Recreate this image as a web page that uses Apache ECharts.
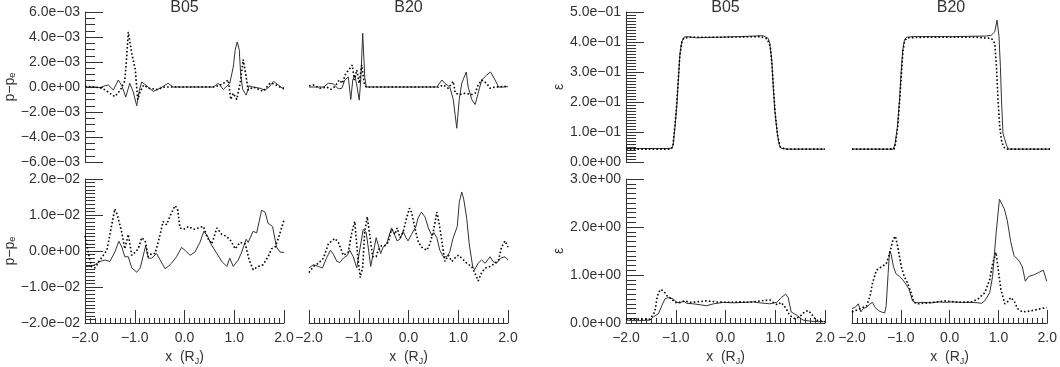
<!DOCTYPE html>
<head>
    <meta charset="utf-8">
    <title>B05 / B20</title>
    <script src="https://cdn.jsdelivr.net/npm/echarts@6/dist/echarts.min.js"></script>
    <style>
      body { margin: 0; background: #fff; }
      #main { width: 1060px; height: 367px; }
    </style>
</head>
<body>
<div id="main"></div>

<script type="text/javascript">
// panel titles and axis tick values
var panelTitles = ['B05', 'B20', 'B05', 'B20'];
var xTicks = [-2.0, -1.0, 0.0, 1.0, 2.0];
var dpTopTicks = [-6e-3, -4e-3, -2e-3, 0, 2e-3, 4e-3, 6e-3];
var dpBotTicks = [-2e-2, -1e-2, 0, 1e-2, 2e-2];
var epsTopTicks = [0, 0.1, 0.2, 0.3, 0.4, 0.5];
var epsBotTicks = [0, 1, 2, 3];

// p - p_e, top row
var dpTopB05Solid = [[-2.0,0],[-1.8,0.0],[-1.7,-0.05e-3],[-1.6,0.1e-3],[-1.53,0.16e-3],[-1.43,-0.24e-3],[-1.33,0.56e-3],[-1.26,0.1e-3],[-1.18,-0.8e-3],[-1.10,0.3e-3],[-1.03,-0.4e-3],[-0.96,-1.5e-3],[-0.91,-0.3e-3],[-0.86,0.4e-3],[-0.76,0.1e-3],[-0.63,-0.35e-3],[-0.49,-0.1e-3],[-0.33,0.3e-3],[-0.23,0.0],[0.58,0],[0.68,0.3e-3],[0.78,-0.2e-3],[0.91,0.3e-3],[0.98,1.6e-3],[1.02,3.0e-3],[1.06,3.6e-3],[1.10,3.0e-3],[1.13,1.0e-3],[1.17,-0.2e-3],[1.24,-0.65e-3],[1.3,0.1e-3],[1.38,0.0],[1.52,-0.1e-3],[1.62,-0.25e-3],[1.7,0.0],[1.79,0.45e-3],[1.89,0.15e-3],[2.0,-0.2e-3]];
var dpTopB05Dot = [[-2,0.05e-3],[-1.8,0.0],[-1.65,-0.1e-3],[-1.5,-0.5e-3],[-1.4,-0.77e-3],[-1.29,-0.25e-3],[-1.2,0.5e-3],[-1.16,2.5e-3],[-1.13,4.4e-3],[-1.06,2.7e-3],[-0.99,1.4e-3],[-0.94,-1.0e-3],[-0.89,-0.35e-3],[-0.82,0.15e-3],[-0.72,-0.1e-3],[-0.55,-0.2e-3],[-0.4,0],[0.6,0],[0.75,0.2e-3],[0.88,0.56e-3],[0.93,-1.0e-3],[0.98,-0.5e-3],[1.05,-1.0e-3],[1.12,0.3e-3],[1.18,2.2e-3],[1.24,0.8e-3],[1.28,-0.25e-3],[1.38,0.0],[1.58,-0.35e-3],[1.72,0.3e-3],[1.8,0.25e-3],[1.92,0.0],[2.0,-0.1e-3]];
var dpTopB20Solid = [[-2,0],[-1.71,0],[-1.61,0.3e-3],[-1.51,0.25e-3],[-1.41,-0.15e-3],[-1.34,-0.1e-3],[-1.28,0.56e-3],[-1.21,0.8e-3],[-1.16,-1.0e-3],[-1.12,0.56e-3],[-1.08,0.95e-3],[-1.04,0.15e-3],[-0.99,-1.05e-3],[-0.96,0.56e-3],[-0.92,4.3e-3],[-0.88,0.8e-3],[-0.85,0],[0.57,0],[0.67,0.56e-3],[0.73,0.3e-3],[0.83,0],[0.90,-1.0e-3],[0.97,-3.3e-3],[1.02,-1.0e-3],[1.07,0.3e-3],[1.16,1.2e-3],[1.20,0.0],[1.27,-1.0e-3],[1.34,-1.4e-3],[1.40,-0.5e-3],[1.47,0.56e-3],[1.57,0.95e-3],[1.65,1.2e-3],[1.74,0.56e-3],[1.81,0],[1.91,0],[2,0.03e-3]];
var dpTopB20Dot = [[-2,0.1e-3],[-1.91,0.16e-3],[-1.78,-0.1e-3],[-1.65,0],[-1.56,-0.19e-3],[-1.49,0],[-1.39,0.56e-3],[-1.33,0.29e-3],[-1.26,1.1e-3],[-1.20,1.36e-3],[-1.13,1.76e-3],[-1.09,0.56e-3],[-1.04,1.36e-3],[-0.99,0.3e-3],[-0.94,1.76e-3],[-0.89,0.3e-3],[-0.85,0],[0.6,0],[0.70,0.16e-3],[0.80,-0.1e-3],[0.90,0.45e-3],[0.94,-0.5e-3],[0.98,-0.64e-3],[1.03,-0.6e-3],[1.14,-0.5e-3],[1.27,-0.6e-3],[1.34,-0.5e-3],[1.40,0.16e-3],[1.47,0.56e-3],[1.57,0.3e-3],[1.64,-0.1e-3],[1.74,0],[1.9,0.03e-3],[2,0.08e-3]];

// p - p_e, bottom row
var dpBotB05Solid = [[-2.0,-0.43e-2],[-1.90,-0.43e-2],[-1.80,-0.38e-2],[-1.70,-0.29e-2],[-1.60,-0.25e-2],[-1.50,-0.29e-2],[-1.40,-0.03e-2],[-1.32,0.27e-2],[-1.26,0.11e-2],[-1.20,-0.16e-2],[-1.13,-0.16e-2],[-1.06,-0.47e-2],[-0.96,-0.59e-2],[-0.89,-0.47e-2],[-0.78,0.15e-2],[-0.73,-0.2e-2],[-0.66,-0.2e-2],[-0.56,-0.07e-2],[-0.49,-0.25e-2],[-0.39,-0.49e-2],[-0.33,-0.43e-2],[-0.26,-0.34e-2],[-0.16,-0.16e-2],[-0.06,0.1e-2],[0.01,0.02e-2],[0.11,-0.12e-2],[0.21,-0.03e-2],[0.31,0.24e-2],[0.39,0.55e-2],[0.46,0.42e-2],[0.55,0.15e-2],[0.65,-0.07e-2],[0.75,-0.29e-2],[0.85,-0.43e-2],[0.91,-0.2e-2],[0.98,-0.43e-2],[1.08,-0.25e-2],[1.15,-0.03e-2],[1.24,0.33e-2],[1.28,0.24e-2],[1.38,0.55e-2],[1.45,0.5e-2],[1.55,1.13e-2],[1.62,1.08e-2],[1.68,0.77e-2],[1.77,0.68e-2],[1.85,0.11e-2],[1.92,-0.03e-2],[2.0,-0.04e-2]];
var dpBotB05Dot = [[-2.0,0.42e-2],[-1.93,-0.07e-2],[-1.87,-0.43e-2],[-1.80,-0.47e-2],[-1.70,-0.25e-2],[-1.56,0.02e-2],[-1.48,0.6e-2],[-1.40,1.17e-2],[-1.35,1.0e-2],[-1.26,0.51e-2],[-1.20,0.06e-2],[-1.13,0.46e-2],[-1.06,-0.12e-2],[-0.99,-0.03e-2],[-0.93,0.06e-2],[-0.86,0.37e-2],[-0.79,0.28e-2],[-0.73,-0.16e-2],[-0.66,-0.07e-2],[-0.59,-0.07e-2],[-0.49,0.46e-2],[-0.43,0.82e-2],[-0.36,0.73e-2],[-0.28,1.0e-2],[-0.19,1.26e-2],[-0.14,1.17e-2],[-0.09,0.64e-2],[-0.02,0.6e-2],[0.08,0.68e-2],[0.18,0.6e-2],[0.28,0.64e-2],[0.38,0.68e-2],[0.46,0.37e-2],[0.55,0.2e-2],[0.65,0.64e-2],[0.75,0.46e-2],[0.82,0.42e-2],[0.91,0.33e-2],[1.02,0.06e-2],[1.12,0.24e-2],[1.22,0.2e-2],[1.30,-0.25e-2],[1.38,-0.52e-2],[1.48,-0.43e-2],[1.58,-0.38e-2],[1.68,-0.16e-2],[1.75,0.06e-2],[1.82,0.11e-2],[1.89,0.37e-2],[2.0,0.86e-2]];
var dpBotB20Solid = [[-2.0,-0.47e-2],[-1.91,-0.38e-2],[-1.81,-0.43e-2],[-1.73,-0.47e-2],[-1.65,-0.2e-2],[-1.57,0.02e-2],[-1.51,-0.09e-2],[-1.44,-0.29e-2],[-1.38,-0.32e-2],[-1.31,-0.2e-2],[-1.23,-0.12e-2],[-1.18,0.02e-2],[-1.11,-0.16e-2],[-1.04,-0.47e-2],[-0.97,0.11e-2],[-0.91,0.6e-2],[-0.85,0.51e-2],[-0.81,0.11e-2],[-0.76,-0.43e-2],[-0.71,-0.07e-2],[-0.65,0.37e-2],[-0.61,0.33e-2],[-0.56,-0.07e-2],[-0.51,0.11e-2],[-0.44,0.2e-2],[-0.37,0.51e-2],[-0.34,0.64e-2],[-0.27,0.42e-2],[-0.23,0.28e-2],[-0.17,0.33e-2],[-0.11,0.55e-2],[-0.05,0.37e-2],[-0.01,0.28e-2],[0.06,0.46e-2],[0.15,0.68e-2],[0.19,0.91e-2],[0.26,1.08e-2],[0.33,0.95e-2],[0.40,0.64e-2],[0.47,0.42e-2],[0.51,0.51e-2],[0.57,0.37e-2],[0.63,0.02e-2],[0.70,-0.16e-2],[0.77,-0.16e-2],[0.83,-0.03e-2],[0.89,0.33e-2],[0.93,0.37e-2],[0.98,0.68e-2],[1.02,1.35e-2],[1.07,1.64e-2],[1.11,1.44e-2],[1.17,0.91e-2],[1.22,0.2e-2],[1.29,-0.43e-2],[1.33,-0.52e-2],[1.40,-0.34e-2],[1.47,-0.25e-2],[1.54,-0.34e-2],[1.64,-0.16e-2],[1.70,-0.29e-2],[1.77,-0.34e-2],[1.85,-0.2e-2],[1.94,-0.16e-2],[2.0,-0.25e-2]];
var dpBotB20Dot = [[-2.0,-0.6e-2],[-1.91,-0.43e-2],[-1.81,-0.34e-2],[-1.71,-0.2e-2],[-1.61,0.2e-2],[-1.54,0.28e-2],[-1.48,0.35e-2],[-1.41,0.24e-2],[-1.31,-0.12e-2],[-1.21,-0.03e-2],[-1.14,0.51e-2],[-1.08,0.82e-2],[-1.02,-0.16e-2],[-0.97,-0.74e-2],[-0.92,-0.43e-2],[-0.88,0.55e-2],[-0.83,0.95e-2],[-0.78,0.46e-2],[-0.72,-0.16e-2],[-0.65,-0.16e-2],[-0.61,0.02e-2],[-0.54,0.15e-2],[-0.47,0.15e-2],[-0.41,0.24e-2],[-0.34,0.6e-2],[-0.27,0.46e-2],[-0.23,0.64e-2],[-0.17,0.37e-2],[-0.11,0.51e-2],[-0.04,0.91e-2],[0.02,1.19e-2],[0.06,1.08e-2],[0.13,0.64e-2],[0.19,0.28e-2],[0.26,0.11e-2],[0.37,0.02e-2],[0.43,0.2e-2],[0.50,0.55e-2],[0.57,1.08e-2],[0.62,0.73e-2],[0.67,0.28e-2],[0.73,-0.29e-2],[0.80,-0.12e-2],[0.87,-0.29e-2],[0.93,-0.2e-2],[1.00,-0.12e-2],[1.07,-0.2e-2],[1.17,-0.34e-2],[1.27,-0.43e-2],[1.33,-0.6e-2],[1.40,-0.83e-2],[1.47,-0.6e-2],[1.54,-0.47e-2],[1.64,-0.43e-2],[1.74,-0.34e-2],[1.81,-0.25e-2],[1.87,0.11e-2],[1.94,0.28e-2],[2.0,0.11e-2]];

// epsilon, top row
var epsTopB05Solid = [[-2,0.045],[-1.2,0.045],[-1.08,0.046],[-1.05,0.057],[-1.015,0.118],[-0.98,0.184],[-0.948,0.273],[-0.915,0.362],[-0.88,0.401],[-0.834,0.416],[-0.78,0.418],[-0.58,0.414],[0.29,0.418],[0.76,0.421],[0.86,0.412],[0.89,0.396],[0.93,0.34],[0.96,0.251],[0.99,0.173],[1.04,0.096],[1.08,0.057],[1.12,0.046],[1.22,0.043],[2,0.043]];
var epsTopB05Dot = [[-2,0.043],[-1.1,0.043],[-1.06,0.05],[-1.03,0.1],[-0.99,0.17],[-0.955,0.26],[-0.92,0.35],[-0.885,0.395],[-0.84,0.413],[-0.7,0.416],[0,0.416],[0.7,0.418],[0.84,0.41],[0.9,0.385],[0.94,0.31],[0.97,0.23],[1.0,0.16],[1.05,0.085],[1.1,0.05],[1.2,0.043],[2,0.043]];
var epsTopB20Solid = [[-2,0.043],[-1.163,0.043],[-1.129,0.062],[-1.082,0.118],[-1.04,0.207],[-1.008,0.296],[-0.975,0.373],[-0.94,0.407],[-0.894,0.416],[-0.76,0.418],[0.046,0.418],[0.716,0.42],[0.817,0.423],[0.884,0.434],[0.93,0.473],[0.97,0.418],[0.998,0.318],[1.02,0.207],[1.05,0.096],[1.08,0.079],[1.12,0.057],[1.16,0.043],[2,0.043]];
var epsTopB20Dot = [[-2,0.043],[-1.15,0.043],[-1.12,0.06],[-1.075,0.12],[-1.035,0.21],[-1.0,0.3],[-0.97,0.37],[-0.935,0.405],[-0.88,0.414],[-0.5,0.416],[0.5,0.416],[0.817,0.412],[0.884,0.396],[0.918,0.318],[0.95,0.207],[0.985,0.118],[1.018,0.073],[1.06,0.051],[1.11,0.043],[2,0.043]];

// epsilon, bottom row
var epsBotB05Solid = [[-2,0.06],[-1.79,0.047],[-1.52,0.06],[-1.45,0.13],[-1.35,0.19],[-1.28,0.36],[-1.22,0.5],[-1.15,0.53],[-1.05,0.5],[-0.98,0.43],[-0.91,0.42],[-0.85,0.46],[-0.78,0.41],[-0.65,0.40],[-0.51,0.38],[-0.38,0.36],[-0.24,0.40],[-0.04,0.43],[0.16,0.42],[0.36,0.43],[0.56,0.44],[0.69,0.42],[0.89,0.40],[1.03,0.43],[1.12,0.53],[1.21,0.6],[1.26,0.53],[1.32,0.23],[1.42,0.17],[1.56,0.06],[1.69,0.04],[1.86,0.027],[2,0.027]];
var epsBotB05Dot = [[-2,0.08],[-1.79,0.08],[-1.52,0.08],[-1.42,0.23],[-1.38,0.5],[-1.35,0.63],[-1.30,0.70],[-1.24,0.66],[-1.17,0.56],[-1.08,0.5],[-1.02,0.43],[-0.91,0.43],[-0.81,0.46],[-0.71,0.43],[-0.58,0.44],[-0.38,0.46],[-0.18,0.44],[0.02,0.43],[0.29,0.44],[0.49,0.43],[0.69,0.46],[0.89,0.48],[0.96,0.43],[1.04,0.38],[1.12,0.43],[1.22,0.3],[1.29,0.16],[1.39,0.09],[1.49,0.13],[1.59,0.23],[1.66,0.26],[1.72,0.2],[1.82,0.06],[2,0.027]];
var epsBotB20Solid = [[-2,0.30],[-1.93,0.33],[-1.87,0.40],[-1.82,0.23],[-1.77,0.30],[-1.70,0.33],[-1.63,0.40],[-1.58,0.43],[-1.53,0.33],[-1.46,0.26],[-1.40,0.23],[-1.33,0.21],[-1.30,0.36],[-1.26,1.03],[-1.23,1.50],[-1.20,1.44],[-1.15,1.17],[-1.10,1.03],[-1.03,0.97],[-0.96,0.90],[-0.89,0.80],[-0.83,0.70],[-0.76,0.46],[-0.69,0.42],[-0.56,0.43],[-0.36,0.42],[-0.23,0.44],[-0.09,0.43],[0.05,0.44],[0.25,0.43],[0.45,0.43],[0.58,0.42],[0.65,0.41],[0.72,0.46],[0.82,0.63],[0.88,0.97],[0.95,1.84],[1.02,2.58],[1.05,2.54],[1.12,2.38],[1.18,2.14],[1.25,1.70],[1.32,1.40],[1.42,1.30],[1.49,1.17],[1.55,0.87],[1.62,0.97],[1.72,1.0],[1.82,1.05],[1.92,1.10],[1.99,0.87]];
var epsBotB20Dot = [[-2,0.23],[-1.93,0.26],[-1.83,0.30],[-1.70,0.36],[-1.63,0.56],[-1.58,0.83],[-1.50,1.10],[-1.40,1.17],[-1.30,1.23],[-1.23,1.44],[-1.16,1.74],[-1.11,1.81],[-1.06,1.57],[-0.99,1.17],[-0.93,0.97],[-0.86,0.83],[-0.79,0.63],[-0.73,0.43],[-0.63,0.40],[-0.36,0.43],[-0.09,0.46],[0.18,0.43],[0.45,0.44],[0.58,0.50],[0.72,0.63],[0.82,0.90],[0.88,1.23],[0.95,1.47],[0.98,1.23],[1.05,0.70],[1.13,0.40],[1.18,0.43],[1.25,0.53],[1.32,0.46],[1.39,0.30],[1.49,0.23],[1.65,0.25],[1.79,0.28],[1.92,0.31],[1.99,0.32]];

var myChart = echarts.init(document.getElementById('main'), null, {renderer: 'canvas'});
var FONT = 'Liberation Sans';
var INK = '#333';

function sci(v) {
    if (Math.abs(v) < 1e-12) return '0.0e+00';
    var p = v.toExponential(1).split('e');
    var e = parseInt(p[1], 10);
    return p[0].replace('-', '\u2212') + 'e' + (e < 0 ? '\u2212' : '+') + String(Math.abs(e)).padStart(2, '0');
}
function fix1(v) {
    if (Math.abs(v) < 1e-9) return '0.0';
    return v.toFixed(1).replace('-', '\u2212');
}

// layout of the 8 panels
var cols = [{left: 85, width: 199}, {left: 309, width: 199}, {left: 626, width: 199}, {left: 852, width: 198}];
var rows = [{top: 12, height: 150}, {top: 179, height: 149}];

var panels = [
    {r: 0, c: 0, ticks: dpTopTicks, minor: 4, name: 'p\u2212p\u2091', gap: 68, solid: dpTopB05Solid, dot: dpTopB05Dot},
    {r: 0, c: 1, ticks: dpTopTicks, solid: dpTopB20Solid, dot: dpTopB20Dot},
    {r: 0, c: 2, ticks: epsTopTicks, minor: 10, name: '\u03b5', gap: 58, solid: epsTopB05Solid, dot: epsTopB05Dot},
    {r: 0, c: 3, ticks: epsTopTicks, solid: epsTopB20Solid, dot: epsTopB20Dot},
    {r: 1, c: 0, ticks: dpBotTicks, minor: 10, name: 'p\u2212p\u2091', gap: 68, solid: dpBotB05Solid, dot: dpBotB05Dot},
    {r: 1, c: 1, ticks: dpBotTicks, solid: dpBotB20Solid, dot: dpBotB20Dot},
    {r: 1, c: 2, ticks: epsBotTicks, minor: 10, name: '\u03b5', gap: 58, solid: epsBotB05Solid, dot: epsBotB05Dot},
    {r: 1, c: 3, ticks: epsBotTicks, solid: epsBotB20Solid, dot: epsBotB20Dot}
];

var grid = [], xAxis = [], yAxis = [], series = [];
panels.forEach(function (p, i) {
    grid.push({left: cols[p.c].left, width: cols[p.c].width, top: rows[p.r].top, height: rows[p.r].height});
    var bottom = p.r === 1;
    xAxis.push({
        type: 'value', gridIndex: i, min: xTicks[0], max: xTicks[xTicks.length - 1], interval: 1,
        show: bottom, position: 'bottom',
        axisLine: {show: true, onZero: false, lineStyle: {color: INK, width: 1}},
        axisTick: {show: true, inside: true, length: 13, lineStyle: {color: INK}},
        minorTick: {show: true, splitNumber: 10, length: 5, lineStyle: {color: INK}},
        splitLine: {show: false},
        axisLabel: {show: true, margin: 8, color: INK, fontFamily: FONT, fontSize: 14, formatter: fix1},
        name: bottom ? '{a|x  (R}{s|J}{a|)}' : '',
        nameLocation: 'middle', nameGap: 27,
        nameTextStyle: {
            rich: {
                a: {fontFamily: FONT, fontSize: 14, color: INK, verticalAlign: 'top', lineHeight: 14},
                s: {fontFamily: FONT, fontSize: 9, color: INK, verticalAlign: 'top', padding: [7, 0, 0, 0]}
            }
        }
    });
    var t = p.ticks;
    yAxis.push({
        type: 'value', gridIndex: i, min: t[0], max: t[t.length - 1], interval: t[1] - t[0],
        show: !!p.name, position: 'left',
        axisLine: {show: true, onZero: false, lineStyle: {color: INK, width: 1}},
        axisTick: {show: true, inside: true, length: 18, lineStyle: {color: INK}},
        minorTick: {show: true, splitNumber: p.minor || 10, length: 10, lineStyle: {color: INK}},
        splitLine: {show: false},
        axisLabel: {margin: 5, color: INK, fontFamily: FONT, fontSize: 14, formatter: sci},
        name: p.name || '', nameLocation: 'middle', nameRotate: 90, nameGap: p.gap || 0,
        nameTextStyle: {fontFamily: FONT, fontSize: 14, color: INK}
    });
    series.push({
        type: 'line', xAxisIndex: i, yAxisIndex: i, data: p.solid, showSymbol: false,
        lineStyle: {color: '#333', width: 1}, silent: true
    });
    series.push({
        type: 'line', xAxisIndex: i, yAxisIndex: i, data: p.dot, showSymbol: false,
        lineStyle: {color: '#000', width: 1.6, type: [1.6, 2.2]}, silent: true
    });
});

var title = panelTitles.map(function (txt, c) {
    return {
        text: txt, left: cols[c].left + cols[c].width / 2, top: 0, padding: 0, textAlign: 'center',
        textStyle: {fontFamily: FONT, fontSize: 16, fontWeight: 'normal', color: INK}
    };
});

var option = {
    animation: false,
    backgroundColor: '#fff',
    title: title,
    grid: grid,
    xAxis: xAxis,
    yAxis: yAxis,
    series: series
};
myChart.setOption(option);
</script>
</body>
